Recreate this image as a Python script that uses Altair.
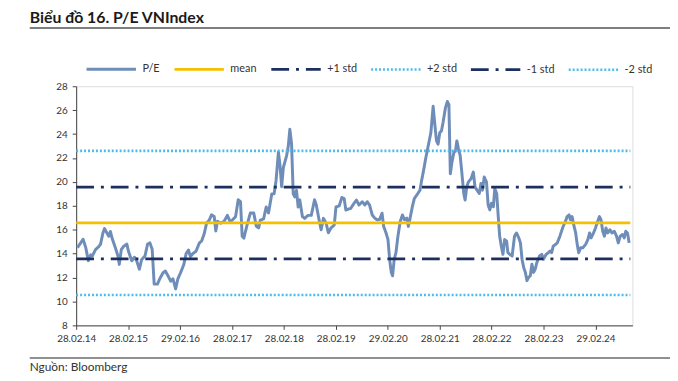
import altair as alt
import pandas as pd

# ---------------- data ----------------
TITLE = "Biểu đồ 16. P/E VNIndex"
SOURCE = "Nguồn: Bloomberg"

# time as decimal years, P/E values
pe_times = [
    2014.184, 2014.292, 2014.344, 2014.393, 2014.439, 2014.469, 2014.534, 2014.597, 2014.629, 2014.673,
    2014.705, 2014.755, 2014.787, 2014.819, 2014.850, 2014.882, 2014.914, 2014.964, 2014.990, 2015.029,
    2015.072, 2015.135, 2015.167, 2015.230, 2015.282, 2015.325, 2015.377, 2015.420, 2015.485, 2015.535,
    2015.580, 2015.624, 2015.662, 2015.725, 2015.770, 2015.833, 2015.877, 2015.928, 2015.980, 2016.024,
    2016.075, 2016.119, 2016.170, 2016.233, 2016.277, 2016.322, 2016.360, 2016.404, 2016.467, 2016.532,
    2016.575, 2016.627, 2016.670, 2016.722, 2016.766, 2016.817, 2016.847, 2016.880, 2016.943, 2017.007,
    2017.070, 2017.121, 2017.165, 2017.228, 2017.279, 2017.323, 2017.355, 2017.388, 2017.450, 2017.513,
    2017.578, 2017.627, 2017.673, 2017.704, 2017.768, 2017.818, 2017.863, 2017.926, 2017.970, 2018.008,
    2018.054, 2018.084, 2018.116, 2018.149, 2018.212, 2018.244, 2018.274, 2018.307, 2018.339, 2018.369,
    2018.402, 2018.434, 2018.465, 2018.516, 2018.560, 2018.624, 2018.687, 2018.750, 2018.782, 2018.834,
    2018.877, 2018.921, 2018.973, 2019.016, 2019.068, 2019.130, 2019.163, 2019.226, 2019.277, 2019.321,
    2019.353, 2019.448, 2019.511, 2019.557, 2019.606, 2019.671, 2019.720, 2019.766, 2019.810, 2019.861,
    2019.911, 2019.956, 2020.000, 2020.051, 2020.082, 2020.127, 2020.165, 2020.196, 2020.228, 2020.253,
    2020.285, 2020.318, 2020.356, 2020.400, 2020.443, 2020.481, 2020.527, 2020.557, 2020.590, 2020.633,
    2020.672, 2020.717, 2020.780, 2020.812, 2020.843, 2020.888, 2020.938, 2020.989, 2021.033, 2021.065,
    2021.098, 2021.128, 2021.161, 2021.193, 2021.223, 2021.269, 2021.307, 2021.337, 2021.364, 2021.395,
    2021.433, 2021.465, 2021.490, 2021.522, 2021.554, 2021.585, 2021.623, 2021.649, 2021.680, 2021.712,
    2021.764, 2021.807, 2021.840, 2021.878, 2021.922, 2021.954, 2021.984, 2022.017, 2022.061, 2022.093,
    2022.125, 2022.156, 2022.194, 2022.220, 2022.258, 2022.283, 2022.315, 2022.346, 2022.378, 2022.411,
    2022.449, 2022.473, 2022.511, 2022.555, 2022.601, 2022.639, 2022.683, 2022.715, 2022.746, 2022.778,
    2022.810, 2022.841, 2022.873, 2022.905, 2022.936, 2022.968, 2023.000, 2023.031, 2023.082, 2023.126,
    2023.158, 2023.210, 2023.253, 2023.286, 2023.316, 2023.348, 2023.392, 2023.425, 2023.476, 2023.506,
    2023.539, 2023.582, 2023.615, 2023.653, 2023.678, 2023.710, 2023.742, 2023.780, 2023.805, 2023.838,
    2023.876, 2023.919, 2023.971, 2024.015, 2024.047, 2024.077, 2024.123, 2024.161, 2024.191, 2024.237,
    2024.268, 2024.300, 2024.332, 2024.363, 2024.395, 2024.439, 2024.477, 2024.523, 2024.566, 2024.599,
    2024.637, 2024.680, 2024.713, 2024.743, 2024.776, 2024.808,
]
pe_values = [
    14.5, 15.2, 14.5, 13.4, 13.9, 13.8, 14.35, 14.6, 14.8, 15.7,
    16.1, 15.7, 15.45, 15.85, 15.3, 14.9, 14.5, 13.8, 13.1, 14.35,
    14.6, 14.8, 14.2, 13.4, 13.7, 13.4, 12.7, 13.5, 13.8, 14.8,
    14.9, 14.35, 11.45, 11.45, 11.9, 12.4, 12.55, 12.15, 11.7, 11.9,
    11.05, 11.9, 12.4, 13.1, 14.0, 14.3, 13.75, 14.0, 14.2, 14.9,
    15.05, 15.7, 16.55, 16.8, 17.25, 17.1, 15.9, 16.7, 16.55, 16.7,
    17.2, 16.7, 16.8, 17.1, 18.5, 18.35, 15.45, 15.3, 16.4, 17.4,
    17.4, 16.3, 16.15, 16.8, 16.9, 17.9, 17.4, 19.0, 19.0, 20.1,
    22.5, 21.4, 19.6, 21.2, 22.2, 23.0, 24.4, 23.2, 19.0, 18.75,
    19.3, 17.9, 18.5, 17.1, 16.95, 17.2, 17.2, 18.5, 18.1, 16.9,
    16.0, 16.95, 16.55, 15.75, 16.15, 16.4, 17.9, 18.0, 18.7, 18.6,
    17.65, 17.79, 18.21, 18.48, 18.07, 18.34, 18.07, 18.34, 18.07, 17.24,
    16.97, 16.83, 16.83, 17.38, 16.28, 15.73, 15.18, 13.53, 12.43, 12.15,
    13.53, 14.08, 15.46, 16.69, 17.24, 16.83, 16.97, 16.28, 16.97, 17.93,
    18.62, 18.89, 19.31, 20.13, 20.82, 21.92, 23.02, 24.12, 26.32, 24.81,
    23.43, 23.16, 24.12, 24.26, 24.95, 26.18, 26.73, 26.46, 20.68, 21.65,
    22.47, 22.61, 23.43, 22.75, 22.2, 20.82, 19.03, 18.48, 19.58, 19.99,
    20.27, 20.82, 19.58, 19.31, 19.03, 19.86, 19.31, 20.41, 19.99, 18.07,
    17.66, 18.21, 17.93, 19.44, 19.03, 17.38, 15.46, 14.63, 13.94, 15.18,
    15.04, 14.08, 13.94, 13.8, 15.46, 15.73, 15.32, 14.9, 13.53, 12.84,
    12.43, 11.74, 12.02, 12.15, 13.12, 12.43, 12.7, 13.25, 13.8, 13.94,
    13.53, 13.94, 14.08, 14.22, 14.08, 14.63, 14.77, 14.9, 15.46, 15.87,
    16.28, 16.69, 17.1, 17.24, 16.83, 17.1, 16.42, 15.73, 14.9, 14.08,
    14.49, 14.49, 14.77, 15.18, 15.73, 15.32, 15.73, 16.14, 16.56, 17.1,
    16.83, 15.87, 15.46, 16.14, 15.73, 16.0, 15.73, 15.87, 15.46, 14.9,
    15.46, 15.6, 15.32, 15.87, 15.73, 14.9,
]
assert len(pe_times) == len(pe_values)

level_names = ["mean", "+1 std", "+2 std", "-1 std", "-2 std"]
level_values = [16.57, 19.57, 22.6, 13.56, 10.54]
level_span = ["2014-02-28", "2024-10-31"]

series_names = ["P/E", "mean", "+1 std", "+2 std", "-1 std", "-2 std"]
series_colors = ["#6E8DB8", "#F5C000", "#1C2F5F", "#4CBCEA", "#1C2F5F", "#4CBCEA"]
series_dash = [[1, 0], [1, 0], [18, 7, 3, 7], [2, 2], [18, 7, 3, 7], [2, 2]]
series_width = [3, 2.5, 2.5, 2, 2.5, 2]

tick_dates = ["2014-02-28", "2015-02-28", "2016-02-29", "2017-02-28", "2018-02-28",
              "2019-02-28", "2020-02-29", "2021-02-28", "2022-02-28", "2023-02-28",
              "2024-02-29"]
x_domain = ["2014-02-28", "2024-11-15"]


def dec_year(t):
    y = int(t)
    a = pd.Timestamp(year=y, month=1, day=1)
    b = pd.Timestamp(year=y + 1, month=1, day=1)
    return (a + (b - a) * (t - y)).strftime("%Y-%m-%dT%H:%M:%S")


def to_dt(s):
    d = pd.Timestamp(s)
    return alt.DateTime(year=d.year, month=d.month, date=d.day)


rows = []
for t, v in zip(pe_times, pe_values):
    rows.append({"date": dec_year(t), "value": v, "series": "P/E"})
for n, v in zip(level_names, level_values):
    for d in level_span:
        rows.append({"date": d + "T00:00:00", "value": v, "series": n})
df = pd.DataFrame(rows)

W, H = 563, 242
FONT = "Lato"
TXT = "#333333"


def make_legend():
    return alt.Legend(title=None, orient="none", legendX=9, legendY=-44,
                      direction="horizontal", columns=6, gridAlign="each",
                      symbolType="stroke", symbolSize=2500, labelFontSize=11,
                      labelFont=FONT, labelColor=TXT, labelOffset=5, columnPadding=8)


lines = alt.Chart(df).mark_line(strokeCap="butt", strokeJoin="round").encode(
    x=alt.X("date:T",
            scale=alt.Scale(domain=[to_dt(x_domain[0]), to_dt(x_domain[1])]),
            axis=alt.Axis(values=[to_dt(s) for s in tick_dates], format="%d.%m.%y",
                          title=None, grid=False, labelFontSize=10, labelFont=FONT,
                          labelColor=TXT, tickSize=4, tickColor="#444", domainColor="#444",
                          labelFlush=False, labelOverlap=False, labelPadding=4)),
    y=alt.Y("value:Q",
            scale=alt.Scale(domain=[8, 28], nice=False, zero=False),
            axis=alt.Axis(values=list(range(8, 29, 2)), title=None, grid=False,
                          labelFontSize=10, labelFont=FONT, labelColor=TXT,
                          tickSize=4, tickColor="#444", domainColor="#444",
                          labelPadding=5)),
    color=alt.Color("series:N", scale=alt.Scale(domain=series_names, range=series_colors),
                    legend=make_legend()),
    strokeDash=alt.StrokeDash("series:N", scale=alt.Scale(domain=series_names, range=series_dash),
                              legend=make_legend()),
    strokeWidth=alt.StrokeWidth("series:N", scale=alt.Scale(domain=series_names, range=series_width),
                                legend=make_legend()),
)

title_df = pd.DataFrame({"t": [TITLE]})
title = alt.Chart(title_df).mark_text(align="left", baseline="alphabetic", font=FONT,
                                      fontSize=16, fontWeight="bold", color="#1a1a1a").encode(
    text="t:N", x=alt.value(-47), y=alt.value(-64))
title_rule = alt.Chart(title_df).mark_rule(color="#555555", strokeWidth=1.5).encode(
    x=alt.value(-47), x2=alt.value(601), y=alt.value(-59))
src = alt.Chart(pd.DataFrame({"t": [SOURCE]})).mark_text(
    align="left", baseline="alphabetic", font=FONT, fontSize=12, color=TXT).encode(
    text="t:N", x=alt.value(-47), y=alt.value(288))
src_rule = alt.Chart(title_df).mark_rule(color="#222222", strokeWidth=1.2).encode(
    x=alt.value(-47), x2=alt.value(601), y=alt.value(275))

chart = alt.layer(lines, title, title_rule, src, src_rule).properties(
    width=W, height=H,
    autosize=alt.AutoSizeParams(type="none"),
    padding={"left": 69, "top": 77, "right": 38, "bottom": 46},
).configure_view(stroke=None).configure(background="white")

chart.save("out.html", embed_options={"renderer": "svg", "actions": False})
